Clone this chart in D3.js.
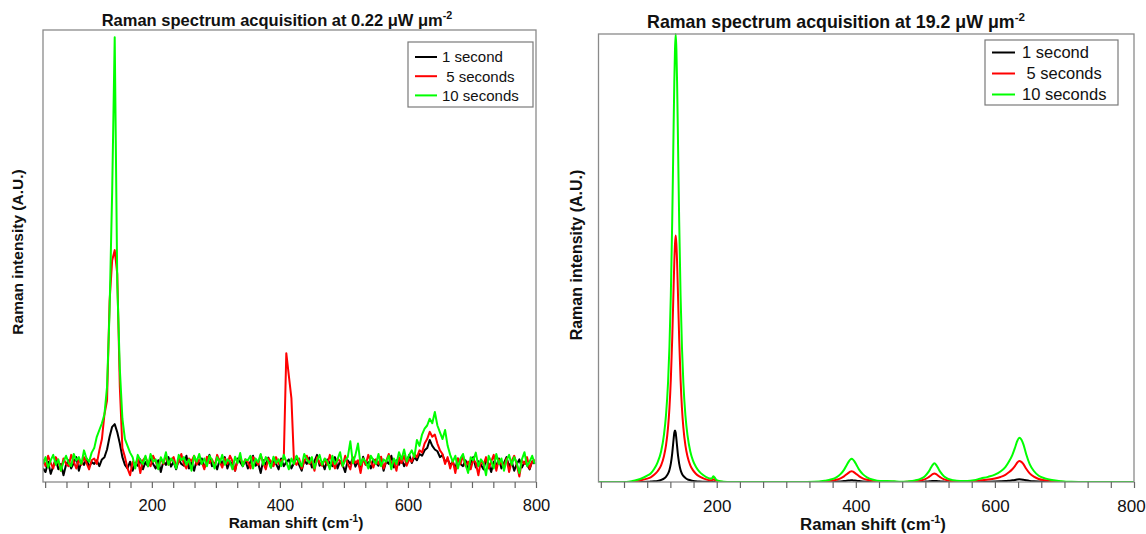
<!DOCTYPE html>
<html>
<head>
<meta charset="utf-8">
<script src="https://cdn.jsdelivr.net/npm/d3@7"></script>
<style>
  body { margin: 0; background: #fff; }
  svg { display: block; }
  text { font-family: "Liberation Sans", Arial, Helvetica, sans-serif; }
</style>
</head>
<body>
<svg id="chart" width="1146" height="534"></svg>
<script>
// ---------------- DATA ----------------
// Left panel (0.22 µW µm^-2): spectra sampled every 4 cm^-1 starting at 30 cm^-1
const lowShiftStart = 30;
const lowShiftStep = 4;
const lowBlack = [
  30,22,45,18,35,50,28,40,15,38,
  48,30,42,55,25,46,38,52,33,44,
  40,48,35,50,55,72,100,122,128,110,
  85,55,38,30,45,25,42,36,50,28,
  44,35,52,40,30,48,22,46,38,55,
  34,45,28,50,40,36,58,30,44,25,
  48,38,52,32,45,60,35,42,28,50,
  40,55,30,46,38,25,52,44,35,48,
  30,45,58,36,42,20,48,38,54,32,
  46,40,28,52,35,44,50,30,42,56,
  38,25,48,40,54,32,46,60,36,44,
  28,50,42,35,55,30,46,38,22,48,
  40,52,34,45,28,56,38,44,30,50,
  42,36,54,25,46,40,58,32,48,38,
  52,35,45,60,42,55,48,62,58,70,
  75,93,80,72,68,55,60,45,50,38,
  44,30,52,40,35,48,25,42,55,32,
  46,38,28,50,40,22,45,36,52,30,
  42,55,34,46,25,40,50,32,44,38,
  28,46,40
];
const lowRed = [
  50,35,58,42,30,55,45,25,52,40,
  35,60,45,30,50,38,55,42,28,48,
  52,40,70,95,150,180,400,490,513,460,
  210,75,55,30,15,45,38,52,20,48,
  55,42,35,58,45,30,52,40,60,38,
  48,55,35,45,62,40,30,52,46,58,
  38,50,44,28,56,42,50,35,60,45,
  32,52,40,58,46,25,48,55,38,50,
  44,30,55,48,38,60,42,28,52,46,
  35,55,40,48,50,285,235,185,45,38,
  52,30,45,58,40,48,25,55,42,36,
  50,38,60,44,30,52,46,35,58,40,
  28,55,42,48,20,52,38,60,45,32,
  50,40,56,30,46,62,38,48,25,55,
  42,58,36,50,45,62,55,70,65,85,
  95,111,100,105,85,70,62,40,55,30,
  48,20,52,40,58,35,45,28,50,42,
  15,48,38,55,30,45,60,25,50,40,
  35,52,22,46,58,38,12,48,40,55,
  30,45,50
];
const lowGreen = [
  40,55,32,48,60,38,50,25,45,58,
  42,35,62,48,55,40,70,52,45,65,
  75,100,115,130,150,210,380,640,984,440,
  250,140,95,80,65,55,30,60,48,40,
  58,35,62,45,50,28,55,42,66,38,
  52,45,30,60,48,55,38,50,25,58,
  45,62,40,52,35,58,48,30,55,42,
  60,38,50,45,28,56,42,64,35,50,
  48,58,30,52,44,62,38,55,46,32,
  56,42,50,35,60,45,28,52,40,58,
  46,35,62,50,42,55,30,48,60,38,
  52,45,28,58,40,50,66,35,48,55,
  90,42,60,85,38,52,45,30,58,48,
  40,62,35,50,45,58,28,52,40,66,
  50,72,45,60,70,55,93,80,105,118,
  125,140,130,155,125,110,95,115,80,60,
  45,58,30,52,62,38,20,55,48,65,
  35,50,42,15,58,45,30,62,40,52,
  25,48,60,38,55,42,20,50,66,35,
  45,58,40
];

// Right panel (19.2 µW µm^-2): Raman shift positions and intensities
const highShift = [
  30,50,70,80,90,100,105,110,115,120,
  124,127,130,132,134,136,137,138,139,140,
  141,142,143,144,145,146,148,150,152,155,
  158,162,166,170,175,180,185,190,193,195,
  197,200,205,215,240,280,320,340,355,365,
  372,378,383,387,390,392,394,396,398,401,
  405,410,416,425,435,445,455,465,475,485,
  493,499,504,507,510,513,516,519,522,527,
  533,540,550,560,570,580,590,600,608,615,
  620,625,629,632,635,638,641,645,650,656,
  663,672,682,695,710,730,760,800
];
const highBlack = [
  0,0,0,0,0,0.5,1,1.5,2.5,4.5,
  7.5,11.5,18.5,27,41,64,80,96,110,115,
  110,96,80,64,51.5,41,27,18.5,13.5,9,
  6,4,2.5,1.8,1.2,0.8,0.5,0.3,0.2,0.5,
  0.4,0,0,0,0,0,0,0,0,0.3,
  0.8,1.3,2,2.8,3.3,3.6,3.8,3.6,3.3,2.8,
  2,1.3,0.8,0.4,0,0,0,0,0,0.2,
  0.4,0.8,1.3,1.8,2.2,2.5,2.2,1.8,1.3,0.8,
  0.4,0.2,0,0,0.2,0.5,0.7,1,1.4,2,
  2.8,3.7,4.7,5.6,6,5.8,5.1,3.8,2.5,1.5,
  0.9,0.5,0.2,0,0,0,0,0
];
const highRed = [
  0,0,0,0.6,3.5,7.5,10.5,16,24,37,
  57,81,122,165,229,320,377,436,491,531,
  550,531,491,436,377,320,229,165,122,81,
  57,37,26,18.5,12.5,8.7,5.9,4,4,6,
  5,1.6,0.6,0,0,0,0,0,1.2,2.8,
  4.9,8.1,12.5,17.5,21,23,24,23,21,17.5,
  12.5,8.1,4.9,2.3,1,0.5,0.3,0,0.6,1.6,
  3.2,5.8,10,13.5,17,19,17,13.5,10,5.8,
  3.2,1.7,1.2,1.2,1.9,4,5.6,8,11.3,16,
  21.6,28.5,36,43,47,45,40,29.5,19.3,11.8,
  6.8,3.8,2,0.8,0.2,0,0,0
];
const highGreen = [
  0,0,0,2.6,6.6,14,19,29,44,68,
  104,148,222,301,417,583,685,793,893,966,
  1000,966,893,793,685,583,417,301,222,148,
  104,68,47,34,23,16,11,8,8,13,
  10,4,1.8,0,0,0,0,0.5,2.7,6,
  10.5,17.5,27,38,46,50,52,50,46,38,
  27,17.5,10.5,5,2.3,2.5,1.5,0.3,1.3,3.4,
  7,12.5,21.5,29,37,42,37,29,21.5,12.5,
  7,4,2.4,2.4,4,8,11.5,16.5,23.5,33,
  45,60,77,91,99,95,84,62,40,24.5,
  14,8,4.3,1.8,0.4,0,0,0
];

const seriesNames = ["1 second", " 5 seconds", "10 seconds"];
const shiftDomain = [30, 800];
const intensityDomain = [0, 1000];
const tickLabels = [200, 400, 600, 800];
const minorTickCount = 24;          // ticks every 100/3 cm^-1
const titles = ["Raman spectrum acquisition at 0.22 \u03BCW \u03BCm", "Raman spectrum acquisition at 19.2 \u03BCW \u03BCm"];

// ---------------- DRAWING ----------------
const colors = ["#000000", "#ff0000", "#00ff00"];
const svg = d3.select("#chart");
const defs = svg.append("defs");
const tickVals = d3.range(1, minorTickCount + 1).map(k => k * 100 / 3);

const lowSeries = [lowBlack, lowRed, lowGreen].map(arr =>
  arr.map((v, i) => [lowShiftStart + i * lowShiftStep, v]));
const highSeries = [highBlack, highRed, highGreen].map(arr =>
  arr.map((v, i) => [highShift[i], v]));

function panel(o) {
  const x = d3.scaleLinear().domain(shiftDomain).range([o.left, o.right]);
  const y = d3.scaleLinear().domain(intensityDomain).range([o.bottom, o.top]);
  const g = svg.append("g");

  defs.append("clipPath").attr("id", "clip" + o.id)
    .append("rect")
    .attr("x", o.left).attr("y", o.top - 3)
    .attr("width", o.right - o.left).attr("height", o.bottom - o.top + 3);

  const line = d3.line().x(d => x(d[0])).y(d => y(d[1])).curve(o.curve);

  const lg = g.append("g").attr("clip-path", `url(#clip${o.id})`);
  o.series.forEach((s, i) => {
    lg.append("path")
      .attr("d", line(s))
      .attr("fill", "none")
      .attr("stroke", colors[i])
      .attr("stroke-width", o.lw)
      .attr("stroke-linejoin", "round");
  });

  // frame
  g.append("rect")
    .attr("x", o.left).attr("y", o.top)
    .attr("width", o.right - o.left).attr("height", o.bottom - o.top)
    .attr("fill", "none").attr("stroke", "#8a8a8a").attr("stroke-width", 1.3);

  // x axis
  const axis = d3.axisBottom(x)
    .tickValues(tickVals)
    .tickSize(6)
    .tickPadding(o.tickPad)
    .tickFormat(d => { const r = Math.round(d); return tickLabels.includes(r) ? String(r) : ""; });
  const ag = g.append("g").attr("transform", `translate(0,${o.bottom})`).call(axis);
  ag.select(".domain").remove();
  ag.selectAll(".tick line").attr("stroke", "#666").attr("stroke-width", 1.2);
  ag.selectAll(".tick text")
    .attr("font-family", '"Liberation Sans", Arial, sans-serif')
    .attr("font-size", o.tickFs).attr("fill", "#111")
    .attr("dx", d => Math.round(d) === 800 ? o.lastDx : 0);

  // title
  const t = g.append("text")
    .attr("x", o.titleX).attr("y", o.titleY)
    .attr("text-anchor", "middle")
    .attr("font-weight", "bold").attr("font-size", o.titleFs).attr("fill", "#111");
  t.append("tspan").text(o.title);
  t.append("tspan").text("-2").attr("font-size", o.titleFs * 0.65).attr("dy", -o.titleFs * 0.4);

  // x label
  const xl = g.append("text")
    .attr("x", o.xlabX).attr("y", o.xlabY)
    .attr("text-anchor", "middle")
    .attr("font-weight", "bold").attr("font-size", o.xlabFs).attr("fill", "#111");
  xl.append("tspan").text("Raman shift (cm");
  xl.append("tspan").text("-1").attr("font-size", o.xlabFs * 0.65).attr("dy", -o.xlabFs * 0.4);
  xl.append("tspan").text(")").attr("dy", o.xlabFs * 0.4);

  // y label
  g.append("text")
    .attr("transform", `translate(${o.ylabX},${o.ylabY}) rotate(-90)`)
    .attr("text-anchor", "middle")
    .attr("font-weight", "bold").attr("font-size", o.ylabFs).attr("fill", "#111")
    .text("Raman intensity (A.U.)");

  // legend
  const L = o.legend;
  const lgd = g.append("g");
  lgd.append("rect")
    .attr("x", L.x).attr("y", L.y).attr("width", L.w).attr("height", L.h)
    .attr("fill", "#fff").attr("stroke", "#7a7a7a").attr("stroke-width", 1.2);
  seriesNames.forEach((name, i) => {
    const yy = L.y + L.firstRow + i * L.rowGap;
    lgd.append("line")
      .attr("x1", L.x + L.lineX0).attr("x2", L.x + L.lineX1)
      .attr("y1", yy).attr("y2", yy)
      .attr("stroke", colors[i]).attr("stroke-width", 2);
    lgd.append("text")
      .attr("x", L.x + L.textX).attr("y", yy)
      .attr("dy", "0.36em")
      .attr("font-size", L.fs).attr("fill", "#111")
      .attr("xml:space", "preserve")
      .style("white-space", "pre")
      .text(name);
  });
}

panel({
  id: "L", left: 43, right: 536, top: 30, bottom: 482,
  series: lowSeries, curve: d3.curveLinear, lw: 2,
  tickPad: 11, tickFs: 16.5, lastDx: 0,
  title: titles[0], titleX: 277, titleY: 26, titleFs: 16.5,
  xlabX: 296, xlabY: 528, xlabFs: 15.5,
  ylabX: 23, ylabY: 252, ylabFs: 15.5,
  legend: { x: 408, y: 42, w: 125, h: 65, firstRow: 15, rowGap: 19.2,
            lineX0: 7, lineX1: 29, textX: 34, fs: 15 }
});

panel({
  id: "R", left: 598.5, right: 1134, top: 34, bottom: 482,
  series: highSeries, curve: d3.curveMonotoneX, lw: 2,
  tickPad: 11.5, tickFs: 17, lastDx: -3,
  title: titles[1], titleX: 836, titleY: 28, titleFs: 17.8,
  xlabX: 873, xlabY: 530, xlabFs: 16.8,
  ylabX: 582, ylabY: 255, ylabFs: 16,
  legend: { x: 985, y: 40, w: 133, h: 65, firstRow: 12.5, rowGap: 21,
            lineX0: 7, lineX1: 30, textX: 37, fs: 16.5 }
});
</script>
</body>
</html>
